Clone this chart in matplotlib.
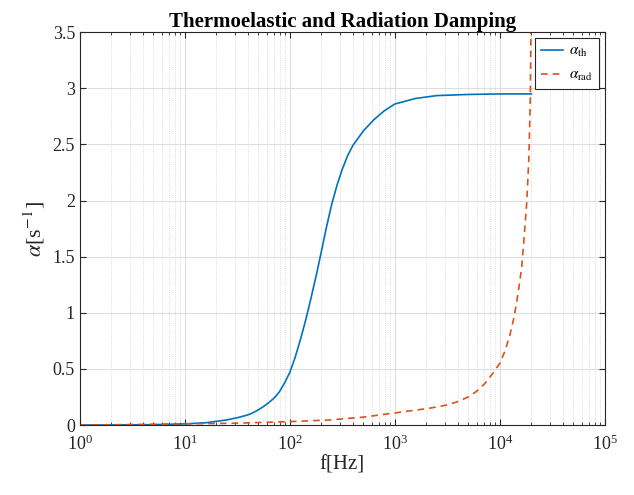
import numpy as np
import matplotlib.pyplot as plt
from matplotlib.ticker import LogLocator

plt.rcParams['font.family'] = ['Liberation Serif', 'DejaVu Serif']
plt.rcParams['mathtext.fontset'] = 'stix'

# thermoelastic damping
f_th = [1, 2, 5, 10, 15.8, 25, 31.6, 39.8, 44.7, 50, 56.2, 63.1, 70.8, 79.4,
        89.1, 100, 112, 126, 141, 158, 178, 200, 224, 251, 282, 316, 355, 398,
        501, 631, 794, 1000, 1585, 2512, 5012, 10000, 20000]
a_th = [0.0, 0.0005, 0.003, 0.01, 0.02, 0.045, 0.065, 0.09, 0.11, 0.135, 0.165,
        0.2, 0.24, 0.295, 0.375, 0.47, 0.6, 0.76, 0.93, 1.12, 1.33, 1.55, 1.77,
        1.97, 2.14, 2.28, 2.4, 2.49, 2.62, 2.72, 2.8, 2.86, 2.91, 2.935, 2.945,
        2.95, 2.95]

# radiation damping
f_rad = [1, 3, 10, 30, 100, 240, 500, 1047, 2150, 3000, 3890, 5000, 6000, 7200,
         8570, 10000, 11200, 12450, 13500, 14500, 15500, 16200, 17000, 18000,
         18900, 19500, 20000]
a_rad = [0.0, 0.004, 0.01, 0.016, 0.03, 0.045, 0.07, 0.11, 0.15, 0.175, 0.205,
         0.25, 0.3, 0.37, 0.46, 0.55, 0.66, 0.8, 0.94, 1.1, 1.28, 1.42, 1.66,
         1.97, 2.38, 2.9, 4.0]

fig = plt.figure(figsize=(6.34, 4.95), dpi=100)
ax = fig.add_axes([0.126, 0.1414, 0.828, 0.7936])

ax.plot(f_th, a_th, color='#0072BD', lw=1.2, label=r'$\alpha_{\rm th}$')
ax.plot(f_rad, a_rad, color='#D95319', lw=1.2, ls=(0, (4, 3)), label=r'$\alpha_{\rm rad}$')

ax.set_xscale('log')
ax.set_xlim(1, 1e5)
ax.set_ylim(0, 3.5)
ax.set_yticks(np.arange(0, 3.51, 0.5))
ax.set_yticklabels(['0', '0.5', '1', '1.5', '2', '2.5', '3', '3.5'])
ax.xaxis.set_major_locator(LogLocator(base=10, numticks=10))
ax.xaxis.set_minor_locator(LogLocator(base=10, subs=np.arange(2, 10), numticks=20))

ax.grid(True, which='major', color='#dcdcdc', lw=0.7)
ax.grid(True, which='minor', axis='x', color='#d0d0d0', lw=0.6, ls=':')
ax.set_axisbelow(True)

ax.tick_params(which='both', direction='in', top=True, right=True, labelsize=13, colors='#262626')
ax.tick_params(axis='x', which='major', pad=7)
ax.tick_params(which='major', length=4)
ax.tick_params(which='minor', length=2)
for s in ax.spines.values():
    s.set_color('#262626')
    s.set_linewidth(0.8)

ax.set_xlabel('f[Hz]', fontsize=15, color='#262626', labelpad=1)
ax.set_ylabel(r'$\alpha$[s$^{-1}$]', fontsize=16, color='#262626', labelpad=4)
ax.set_title('Thermoelastic and Radiation Damping', fontsize=15, fontweight='bold', pad=4)

leg = ax.legend(loc='upper right', fontsize=11, fancybox=False, framealpha=1,
                edgecolor='#262626', handlelength=1.4, handletextpad=0.4,
                borderpad=0.4, labelspacing=0.6, borderaxespad=0.4)
leg.get_frame().set_linewidth(0.8)

fig.savefig('out.png', dpi=100)
